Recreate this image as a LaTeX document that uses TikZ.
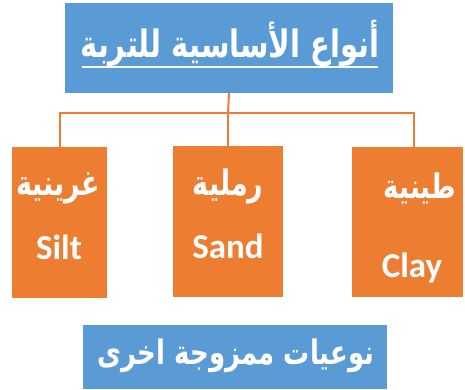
\documentclass[tikz,border=0pt]{standalone}
\usepackage{fontspec}
\TeXXeTstate=1
\newfontfamily\arabicfont[Script=Arabic]{DejaVu Sans}
\newfontfamily\latinfont{Carlito}
\definecolor{boxblue}{HTML}{5B9BD5}
\definecolor{boxorange}{HTML}{ED7D31}
\begin{document}
\begin{tikzpicture}[x=1pt,y=-1pt,
  bluebox/.style={fill=boxblue,draw=none},
  orangebox/.style={fill=boxorange,draw=none},
  wire/.style={draw=boxorange,line width=2pt},
  artext/.style={text=white,inner sep=0pt,yscale=1.3,transform shape},
  latext/.style={text=white,font=\latinfont\bfseries\fontsize{35}{40}\selectfont,inner sep=0pt}]
\useasboundingbox (0,0) rectangle (465,389);
% boxes
\path[bluebox] (65,3) rectangle (393,93);
\coordinate (topb) at (229,93);
\path[orangebox] (12,147) rectangle (107,298);
\path[orangebox] (173,146) rectangle (283,297);
\path[orangebox] (352,147) rectangle (463,297);
\path[bluebox] (83,325) rectangle (387,389);
\coordinate (lt) at (59.5,147);
\coordinate (mt) at (228,146);
\coordinate (rt) at (414,147);
\coordinate (jn) at (228,113);
% connectors
\draw[wire] (topb) -- (jn);
\draw[wire] (lt) -- (59.5,113) -- (rt |- jn) -- (rt);
\draw[wire] (jn) -- (mt);
% title
\node[artext,font=\arabicfont\bfseries\fontsize{29}{34}\selectfont] (title) at (230,43) {\beginR أنواع الأساسية للتربة\endR};
\draw[white,line width=2.2pt] (82,67) -- (378,67);
% labels
\node[artext,font=\arabicfont\bfseries\fontsize{27}{32}\selectfont] (l1) at (58,188) {\beginR غرينية\endR};
\node[artext,font=\arabicfont\bfseries\fontsize{27}{32}\selectfont] (l2) at (228,186) {\beginR رملية\endR};
\node[artext,font=\arabicfont\bfseries\fontsize{26}{32}\selectfont] (l3) at (420,188) {\beginR طينية\endR};
\node[latext] (s1) at (59,247) {Silt};
\node[latext] (s2) at (228,246) {Sand};
\node[latext] (s3) at (412,268) {Clay};
% bottom
\node[artext,font=\arabicfont\bfseries\fontsize{26}{30}\selectfont] (bt) at (236,356) {\beginR نوعيات ممزوجة اخرى\endR};
\end{tikzpicture}
\end{document}
